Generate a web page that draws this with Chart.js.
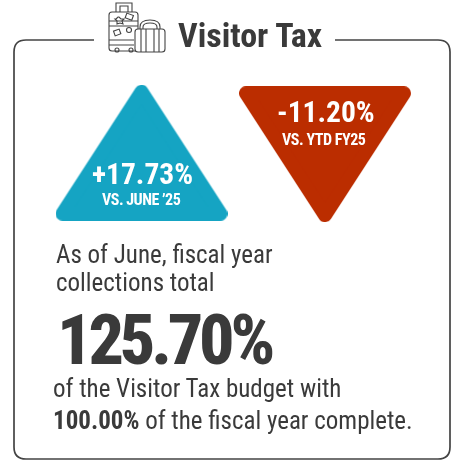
<!DOCTYPE html>
<html>
<head>
<meta charset="utf-8">
<title>Visitor Tax</title>
<script src="https://cdn.jsdelivr.net/npm/chart.js@4"></script>
<style>
  html, body { margin: 0; padding: 0; background: #fff; }
  #wrap { position: relative; width: 454px; height: 461px; overflow: hidden; font-family: Roboto, sans-serif; color: #3a3a3a; }
  #wrap canvas, #deco { position: absolute; left: 0; top: 0; }
  .t { position: absolute; white-space: nowrap; line-height: 1; font-stretch: 75%; }
  .b { font-weight: 700; }
  .w { color: #fff; font-weight: 700; }
</style>
</head>
<body>
<div id="wrap">
  <svg id="deco" width="454" height="461" fill="none" stroke="#444">
    <path d="M94 40H26Q14 40 14 52V447Q14 459 26 459H438Q450 459 450 447V52Q450 40 438 40H335" stroke-width="1.7"/>
    <g stroke-width="1.1">
      <rect x="109" y="12" width="29" height="39" rx="3"/>
      <path d="M116 12V3H132V12M120 12V6H128V12"/>
      <path d="M109 21H138M109 26H138M109 40H134M109 45H134"/>
      <circle cx="117" cy="50" r="2"/><circle cx="131" cy="50" r="2"/>
      <path d="M116 19l2-2 1 0 2 2 3 0-2 2 1 3-3-1-3 1 0-3-2-2z"/>
      <rect x="126" y="14" width="7" height="5" transform="rotate(20 129 16)"/>
      <rect x="114" y="30" width="6" height="5" transform="rotate(-20 117 32)"/>
      <circle cx="129" cy="30" r="2.5"/>
      <rect x="135" y="29" width="30" height="23" rx="3" fill="#fff"/>
      <path d="M140 29V27Q140 20 150 20Q160 20 160 27V29M143 29V27Q143 23 150 23Q157 23 157 27V29"/>
      <path d="M141 29V52M146 29V52M154 29V52M159 29V52"/>
    </g>
  </svg>
  <canvas id="grafico" width="454" height="461"></canvas>

  <span class="t b" style="left:178px;top:18px;font-size:34px">Visitor Tax</span>

  <span class="t w" style="left:92px;top:159.5px;font-size:29.5px">+17.73%</span>
  <span class="t w" style="left:102px;top:191.5px;font-size:16px;letter-spacing:-.5px">VS. JUNE ’25</span>
  <span class="t w" style="left:277px;top:98px;font-size:29.5px">-11.20%</span>
  <span class="t w" style="left:282px;top:131.5px;font-size:16px;letter-spacing:-.45px">VS. YTD FY25</span>

  <span class="t" style="left:56px;top:242px;font-size:25px">As of June, fiscal year</span>
  <span class="t" style="left:56px;top:270px;font-size:25px">collections total</span>
  <span class="t" style="left:57px;top:305px;font-size:70px;font-weight:800;letter-spacing:-4.2px">125.70%</span>
  <span class="t" style="left:53px;top:376px;font-size:25px">of the Visitor Tax budget with</span>
  <span class="t" style="left:53px;top:408px;font-size:25px"><span class="b">100.00%</span> of the fiscal year complete.</span>
</div>

<script>
// =======================
// DATOS
// =======================
const categorias = ["VS. JUNE '25", "VS. YTD FY25"];
const cambios = [17.73, -11.20];
const colores = ["#15a4c3", "#bb2d00"];

// triangulo redondeado, hacia arriba si el cambio es positivo
function crearTriangulo(valor, color) {
  const w = 172, h = 136, pad = 7;
  const c = document.createElement("canvas");
  c.width = w;
  c.height = h;
  const ctx = c.getContext("2d");
  const pts = valor > 0
    ? [[w / 2, pad], [w - pad, h - pad], [pad, h - pad]]
    : [[pad, pad], [w - pad, pad], [w / 2, h - pad]];
  ctx.fillStyle = color;
  ctx.strokeStyle = color;
  ctx.lineWidth = pad * 2;
  ctx.lineJoin = "round";
  ctx.beginPath();
  ctx.moveTo(pts[0][0], pts[0][1]);
  ctx.lineTo(pts[1][0], pts[1][1]);
  ctx.lineTo(pts[2][0], pts[2][1]);
  ctx.closePath();
  ctx.fill();
  ctx.stroke();
  return c;
}

new Chart(document.getElementById("grafico"), {
  type: "scatter",
  data: {
    labels: categorias,
    datasets: [{
      data: cambios,
      showLine: false,
      clip: false,
      pointStyle: cambios.map((v, i) => crearTriangulo(v, colores[i]))
    }]
  },
  options: {
    responsive: false,
    animation: false,
    events: [],
    layout: { padding: { left: 141.5, right: 129 } },
    plugins: { legend: { display: false }, tooltip: { enabled: false } },
    scales: {
      x: { type: "category", display: false, offset: false },
      // escala muy plana: los triangulos quedan casi en la misma fila
      y: { display: false, min: -5960, max: 2930 }
    }
  }
});
</script>
</body>
</html>
